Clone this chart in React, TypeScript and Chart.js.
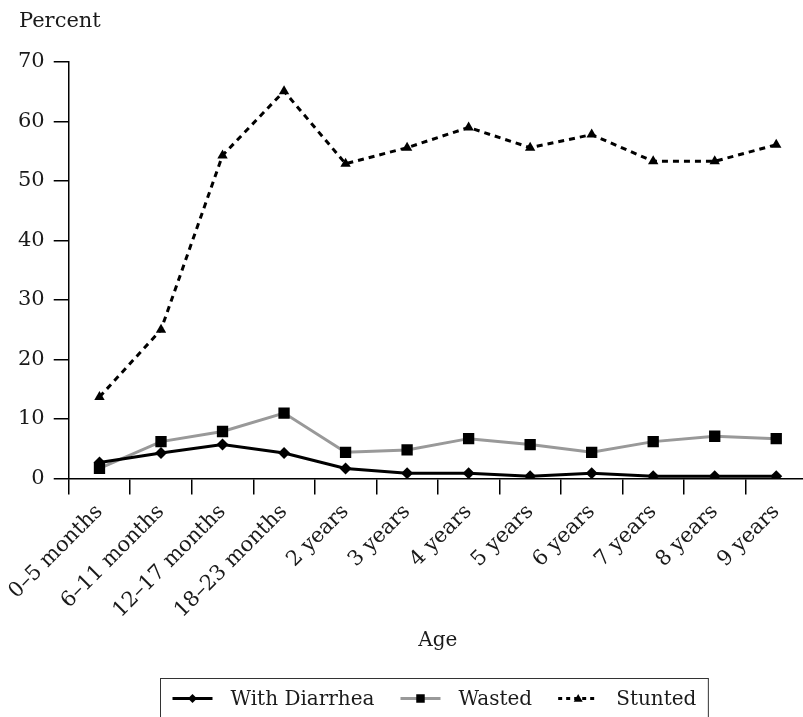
import React, { useEffect, useRef } from "react";
import { Chart, registerables } from "chart.js";

Chart.register(...registerables);

const ageLabels = [
  "0–5 months", "6–11 months", "12–17 months", "18–23 months",
  "2 years", "3 years", "4 years", "5 years", "6 years", "7 years", "8 years", "9 years",
];
const withDiarrhea = [2.7, 4.3, 5.7, 4.3, 1.7, 0.9, 0.9, 0.4, 0.9, 0.4, 0.4, 0.4];
const wasted = [1.7, 6.2, 7.9, 11.0, 4.4, 4.8, 6.7, 5.7, 4.4, 6.2, 7.1, 6.7];
const stunted = [13.7, 25.0, 54.3, 65.1, 52.9, 55.6, 59.0, 55.6, 57.8, 53.3, 53.3, 56.1];
const yTickValues = [0, 10, 20, 30, 40, 50, 60, 70];
const seriesNames = ["With Diarrhea", "Wasted", "Stunted"];
const yAxisTitle = "Percent";
const xAxisTitle = "Age";

const FONT = "'DejaVu Serif', serif";
const FS = 20;
const TFS = 21;
const TEXT = "#1a1a1a";

const styles = [
  { color: "#000000", dash: [] as number[], marker: "rectRot", radius: 6 },
  { color: "#999999", dash: [] as number[], marker: "rect", radius: 8 },
  { color: "#000000", dash: [6, 5], marker: "triangle", radius: 6 },
];

function drawMarker(ctx: CanvasRenderingContext2D, kind: string, x: number, y: number, r: number) {
  ctx.beginPath();
  if (kind === "rectRot") {
    ctx.moveTo(x, y - r); ctx.lineTo(x + r, y); ctx.lineTo(x, y + r); ctx.lineTo(x - r, y);
  } else if (kind === "rect") {
    const s = Math.SQRT1_2 * r;
    ctx.rect(x - s, y - s, 2 * s, 2 * s);
  } else {
    ctx.moveTo(x, y - r); ctx.lineTo(x + r, y + r * 0.7); ctx.lineTo(x - r, y + r * 0.7);
  }
  ctx.closePath();
  ctx.fillStyle = "#000";
  ctx.fill();
}

const overlayPlugin = {
  id: "overlay",
  afterDraw(chart: any) {
    const ctx: CanvasRenderingContext2D = chart.ctx;
    const ca = chart.chartArea;
    ctx.save();
    ctx.font = `${TFS}px ${FONT}`;
    ctx.fillStyle = TEXT;
    ctx.textAlign = "left";
    ctx.textBaseline = "middle";
    ctx.fillText(yAxisTitle, 19, 22);

    // legend
    ctx.font = `${FS}px ${FONT}`;
    const sampleW = 40, gapText = 18, gapItem = 26, padX = 12;
    const widths = seriesNames.map((n) => ctx.measureText(n).width);
    const total = padX * 2 + widths.reduce((a, w) => a + sampleW + gapText + w, 0) + gapItem * (seriesNames.length - 1);
    const cx = (ca.left + ca.right) / 2 - 4;
    const left = Math.round(cx - total / 2) + 0.5;
    const top = chart.height - 38.5;
    ctx.strokeStyle = "#333";
    ctx.lineWidth = 1;
    ctx.strokeRect(left, top, total, 60);
    const midY = top + 20;
    let x = left + padX;
    seriesNames.forEach((name, i) => {
      const st = styles[i];
      ctx.strokeStyle = st.color;
      ctx.lineWidth = 3;
      ctx.setLineDash(st.dash.length ? [4, 4] : []);
      ctx.beginPath();
      ctx.moveTo(x, midY);
      ctx.lineTo(x + sampleW, midY);
      ctx.stroke();
      ctx.setLineDash([]);
      drawMarker(ctx, st.marker, x + sampleW / 2, midY, st.marker === "rect" ? 6 : 4.5);
      x += sampleW + gapText;
      ctx.fillStyle = TEXT;
      ctx.fillText(name, x, midY + 1);
      x += widths[i] + gapItem;
    });
    ctx.restore();
  },
};

export default function App() {
  const ref = useRef<HTMLCanvasElement | null>(null);

  useEffect(() => {
    document.body.style.margin = "0";
    const canvas = ref.current;
    if (!canvas) return;
    const seriesData = [withDiarrhea, wasted, stunted];
    const chart = new Chart(canvas, {
      type: "line",
      data: {
        labels: ageLabels,
        datasets: seriesData.map((d, i) => ({
          label: seriesNames[i],
          data: d,
          borderColor: styles[i].color,
          borderWidth: 3,
          borderDash: styles[i].dash,
          pointStyle: styles[i].marker as any,
          pointRadius: styles[i].radius,
          pointBackgroundColor: "#000",
          pointBorderColor: "#000",
          pointBorderWidth: 0,
          tension: 0,
          fill: false,
        })),
      },
      options: {
        responsive: false,
        animation: false,
        devicePixelRatio: 1,
        layout: { padding: { left: 9, top: 62, right: 0, bottom: 64 } },
        plugins: {
          legend: { display: false },
          tooltip: { enabled: false },
          title: { display: false },
        },
        scales: {
          x: {
            type: "category",
            offset: true,
            grid: {
              display: true,
              drawOnChartArea: false,
              drawTicks: true,
              tickLength: 16,
              color: "#000",
              lineWidth: 1.5,
              offset: true,
            },
            border: { display: true, color: "#000", width: 1.5 },
            ticks: {
              color: TEXT,
              font: { family: FONT, size: TFS },
              minRotation: 45,
              maxRotation: 45,
              autoSkip: false,
              padding: 5,
            },
            title: {
              display: true,
              text: xAxisTitle,
              color: TEXT,
              font: { family: FONT, size: FS },
              padding: { top: 1, bottom: 0 },
            },
          },
          y: {
            min: 0,
            max: 70,
            afterBuildTicks: (axis: any) => {
              axis.ticks = yTickValues.map((v) => ({ value: v }));
            },
            grid: {
              display: true,
              drawOnChartArea: false,
              drawTicks: true,
              tickLength: 15,
              color: "#000",
              lineWidth: 1.5,
            },
            border: { display: true, color: "#000", width: 1.5 },
            ticks: {
              color: TEXT,
              font: { family: FONT, size: TFS },
              padding: 9,
            },
          },
        },
      },
      plugins: [overlayPlugin],
    });
    return () => chart.destroy();
  }, []);

  return (
    <div style={{ width: 803, height: 717, overflow: "hidden", background: "#fff" }}>
      <canvas ref={ref} width={815} height={717} style={{ display: "block" }} />
    </div>
  );
}
